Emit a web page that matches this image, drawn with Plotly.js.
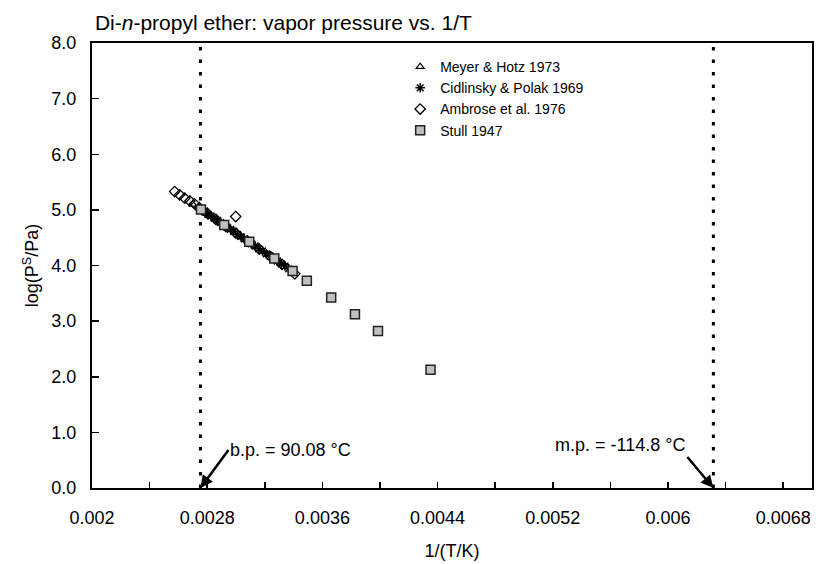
<!DOCTYPE html>
<html>
<head>
<meta charset="utf-8">
<script src="https://cdn.plot.ly/plotly-3.0.1.min.js"></script>
<style>html,body{margin:0;padding:0;background:#fff}#chart{width:819px;height:564px}</style>
</head>
<body>
<div id="chart"></div>
<script>
// ---- data ----
const meyerX = [0.002700, 0.002745, 0.002800, 0.002870, 0.002950, 0.003040, 0.003130, 0.003220, 0.003310];
const meyerY = [5.10, 5.03, 4.93, 4.81, 4.67, 4.51, 4.35, 4.20, 4.04];

const cidlX = [0.002762, 0.002785, 0.002805, 0.002826, 0.002848, 0.002870, 0.002893, 0.002915, 0.002938,
               0.002962, 0.002985, 0.003010, 0.003034, 0.003058, 0.003083, 0.003108, 0.003133, 0.003158,
               0.003184, 0.003210, 0.003236, 0.003262, 0.003288, 0.003314, 0.003340, 0.003366];
const cidlY = [4.99, 4.96, 4.92, 4.89, 4.85, 4.81, 4.77, 4.73, 4.69,
               4.65, 4.61, 4.56, 4.52, 4.48, 4.44, 4.39, 4.35, 4.30,
               4.26, 4.21, 4.17, 4.12, 4.08, 4.03, 3.99, 3.94];

const ambroseX = [0.002574, 0.002609, 0.002644, 0.002679, 0.002712, 0.002745, 0.002800, 0.002860, 0.002930,
                  0.002998, 0.003000, 0.003080, 0.003160, 0.003240, 0.003320, 0.003408];
const ambroseY = [5.33, 5.27, 5.21, 5.16, 5.11, 5.04, 4.94, 4.83, 4.70,
                  4.88, 4.58, 4.44, 4.30, 4.16, 4.02, 3.85];

const stullX = [0.002757, 0.002918, 0.003092, 0.003266, 0.003393, 0.003492, 0.003661, 0.003826, 0.003986, 0.004351];
const stullY = [5.006, 4.727, 4.426, 4.125, 3.903, 3.727, 3.426, 3.125, 2.824, 2.125];

const bpInvT = 0.002753;   // b.p. = 90.08 °C
const mpInvT = 0.006315;   // m.p. = -114.8 °C
const bpLabel = "b.p. = 90.08 °C";
const mpLabel = "m.p. = -114.8 °C";

const xTickVals = [0.002, 0.0028, 0.0036, 0.0044, 0.0052, 0.006, 0.0068];
const xTickText = ["0.002", "0.0028", "0.0036", "0.0044", "0.0052", "0.006", "0.0068"];

// ---- traces ----
const traces = [
  {x: meyerX, y: meyerY, name: "Meyer &amp; Hotz 1973", type: "scatter", mode: "markers",
   marker: {symbol: "triangle-up-open", size: 7, color: "#000", line: {width: 1.2}}},
  {x: cidlX, y: cidlY, name: "Cidlinsky &amp; Polak 1969", type: "scatter", mode: "markers",
   marker: {symbol: "asterisk-open", size: 8, color: "#000", line: {width: 1.5, color: "#000"}}},
  {x: ambroseX, y: ambroseY, name: "Ambrose et al. 1976", type: "scatter", mode: "markers",
   marker: {symbol: "diamond-open", size: 8, color: "#000", line: {width: 1.3}}},
  {x: stullX, y: stullY, name: "Stull 1947", type: "scatter", mode: "markers",
   marker: {symbol: "square", size: 9, color: "#c0c0c0", line: {width: 1.5, color: "#222"}}}
];

const dotted = {color: "#000", width: 3, dash: "3.5px,9px"};

const layout = {
  width: 819, height: 564,
  margin: {l: 92, r: 7, t: 43, b: 76},
  paper_bgcolor: "#fff", plot_bgcolor: "#fff",
  font: {family: "Liberation Sans, Arial, sans-serif", color: "#000", size: 18},
  title: {text: "Di-<i>n</i>-propyl ether: vapor pressure vs. 1/T", font: {size: 21, color: "#000"},
          xref: "paper", x: 0.004, xanchor: "left", yref: "container", y: 0.959, yanchor: "middle"},
  showlegend: true,
  legend: {x: 0.428, y: 0.982, xanchor: "left", yanchor: "top", bgcolor: "rgba(0,0,0,0)",
           font: {size: 14, color: "#000"}, itemwidth: 30, tracegroupgap: 0},
  xaxis: {range: [0.002, 0.007], tickvals: xTickVals, ticktext: xTickText,
          ticks: "inside", ticklen: 6, tickwidth: 1.5, tickcolor: "#000", ticklabelstandoff: 12,
          minor: {dtick: 0.0004, tick0: 0.002, ticks: "inside", ticklen: 6, tickwidth: 1.5, tickcolor: "#000"},
          showline: true, linewidth: 2, linecolor: "#000", mirror: true,
          showgrid: false, zeroline: false, tickfont: {size: 18},
          title: {text: "1/(T/K)", font: {size: 18}, standoff: 18}},
  yaxis: {range: [0, 8], dtick: 1, tick0: 0, tickformat: ".1f",
          ticks: "inside", ticklen: 7, tickwidth: 1.5, tickcolor: "#000", ticklabelstandoff: 10,
          showline: true, linewidth: 2, linecolor: "#000", mirror: true,
          showgrid: false, zeroline: false, tickfont: {size: 18},
          title: {text: "log(P<sup>S</sup>/Pa)", font: {size: 18}, standoff: 8}},
  shapes: [
    {type: "line", xref: "x", yref: "y", x0: bpInvT, x1: bpInvT, y0: 0, y1: 8, line: dotted, layer: "below"},
    {type: "line", xref: "x", yref: "y", x0: mpInvT, x1: mpInvT, y0: 0, y1: 8, line: dotted, layer: "below"}
  ],
  annotations: [
    {x: bpInvT, y: 0, xref: "x", yref: "y", text: bpLabel, showarrow: true,
     ax: 28, ay: -38, xanchor: "left", yanchor: "middle",
     arrowhead: 2, arrowsize: 1, arrowwidth: 2.5, arrowcolor: "#000", font: {size: 18, color: "#000"}},
    {x: mpInvT, y: 0, xref: "x", yref: "y", text: mpLabel, showarrow: true,
     ax: -26, ay: -31, xanchor: "right", yanchor: "bottom",
     arrowhead: 2, arrowsize: 1, arrowwidth: 2.5, arrowcolor: "#000", font: {size: 18, color: "#000"}}
  ]
};

Plotly.newPlot("chart", traces, layout, {displayModeBar: false, staticPlot: true});
</script>
</body>
</html>
